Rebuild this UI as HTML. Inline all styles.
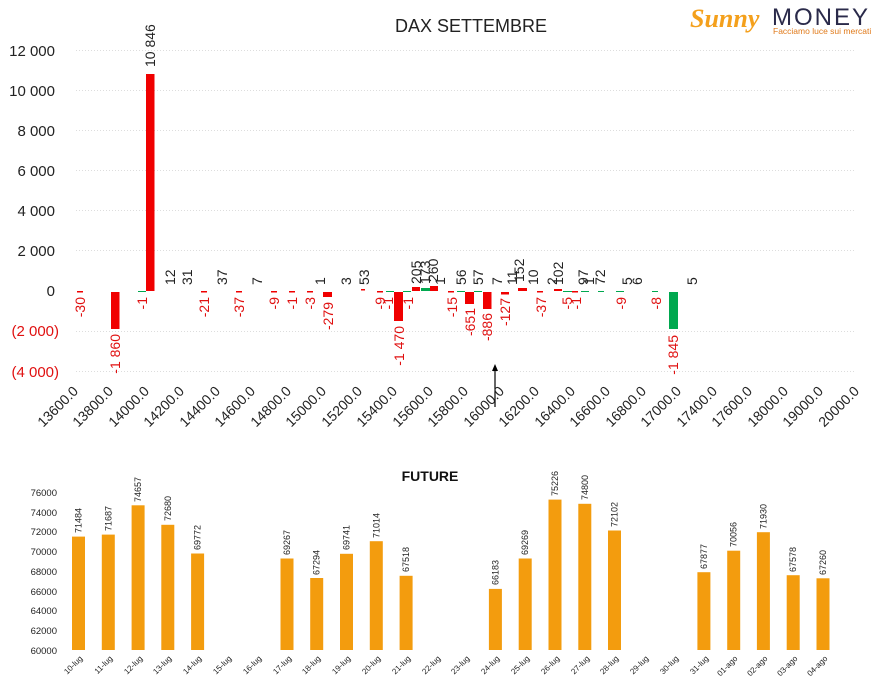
<!DOCTYPE html>
<html><head><meta charset="utf-8"><style>
html,body{margin:0;padding:0;background:#fff;}
svg{display:block;font-family:"Liberation Sans",sans-serif;}
</style></head><body>
<svg width="892" height="693" viewBox="0 0 892 693" xmlns="http://www.w3.org/2000/svg">
<rect width="892" height="693" fill="#fff"/>
<!-- logo -->
<text x="690" y="27" font-size="26" font-style="italic" font-weight="bold" fill="#f4a01c" font-family="Liberation Serif,serif">Sunny</text>
<text x="772" y="25" font-size="24" fill="#2a2a4a" letter-spacing="2">MONEY</text>
<text x="773" y="34" font-size="8.5" fill="#e07a1a">Facciamo luce sui mercati</text>
<!-- title -->
<text x="471" y="32" font-size="18" text-anchor="middle" fill="#222">DAX SETTEMBRE</text>
<!-- gridlines -->
<g stroke="#ddd" stroke-dasharray="1,2" stroke-width="1">
<line x1="76" y1="50.5" x2="855" y2="50.5"/><line x1="76" y1="90.5" x2="855" y2="90.5"/>
<line x1="76" y1="130.5" x2="855" y2="130.5"/><line x1="76" y1="170.5" x2="855" y2="170.5"/>
<line x1="76" y1="210.5" x2="855" y2="210.5"/><line x1="76" y1="250.5" x2="855" y2="250.5"/>
<line x1="76" y1="331.5" x2="855" y2="331.5"/><line x1="76" y1="371.5" x2="855" y2="371.5"/>
</g>
<g font-size="15" text-anchor="end" fill="#222">
<text x="55" y="56">12 000</text><text x="55" y="96">10 000</text><text x="55" y="136">8 000</text>
<text x="55" y="176">6 000</text><text x="55" y="216">4 000</text><text x="55" y="256">2 000</text>
<text x="55" y="296">0</text>
<text x="59" y="336" fill="#e01010">(2 000)</text><text x="59" y="377" fill="#e01010">(4 000)</text>
</g>
<!-- bars top -->
<g fill="#f00000">
<rect x="77" y="291" width="6" height="1.5"/>
<rect x="111" y="292" width="8.5" height="37"/>
<rect x="146" y="74" width="8.5" height="217"/>
<rect x="201" y="291" width="6" height="1.5"/>
<rect x="236" y="291" width="6" height="1.5"/>
<rect x="271" y="291" width="6" height="1.5"/>
<rect x="289" y="291" width="6" height="1.5"/>
<rect x="307" y="291" width="6" height="1.5"/>
<rect x="323" y="292" width="9" height="5"/>
<rect x="361" y="289" width="4" height="1.5"/>
<rect x="377" y="291" width="6" height="1.5"/>
<rect x="394" y="292" width="9" height="29"/>
<rect x="412" y="287" width="8" height="4"/>
<rect x="430" y="286" width="8" height="5"/>
<rect x="448" y="291" width="6" height="1.5"/>
<rect x="465" y="292" width="9" height="12"/>
<rect x="483" y="292" width="8.5" height="17"/>
<rect x="501" y="292" width="8" height="2.5"/>
<rect x="518" y="288" width="9" height="3"/>
<rect x="537" y="291" width="6" height="1.5"/>
<rect x="554" y="289" width="8" height="2"/>
<rect x="572" y="291" width="6" height="1.5"/>
</g>
<g fill="#00a84f">
<rect x="138" y="291" width="8" height="1"/>
<rect x="386" y="291" width="8" height="1"/>
<rect x="403" y="291" width="8" height="1"/>
<rect x="421" y="288" width="9" height="3"/>
<rect x="457" y="291" width="8" height="1"/>
<rect x="474" y="291" width="8" height="1"/>
<rect x="563" y="291" width="9" height="1"/>
<rect x="581" y="291" width="8" height="1"/>
<rect x="598" y="291" width="6" height="1"/>
<rect x="616" y="291" width="8" height="1"/>
<rect x="652" y="291" width="6" height="1"/>
<rect x="669" y="292" width="9" height="37"/>
</g>
<!-- positive labels -->
<g font-size="14" fill="#222">
<text transform="translate(155,67) rotate(-90)">10 846</text>
<text transform="translate(175,285) rotate(-90)">12</text>
<text transform="translate(192,285) rotate(-90)">31</text>
<text transform="translate(227,285) rotate(-90)">37</text>
<text transform="translate(262,285) rotate(-90)">7</text>
<text transform="translate(325,285) rotate(-90)">1</text>
<text transform="translate(351,285) rotate(-90)">3</text>
<text transform="translate(369,285) rotate(-90)">53</text>
<text transform="translate(421,284) rotate(-90)">205</text>
<text transform="translate(430,284) rotate(-90)">173</text>
<text transform="translate(438,282) rotate(-90)">260</text>
<text transform="translate(445,285) rotate(-90)">1</text>
<text transform="translate(466,285) rotate(-90)">56</text>
<text transform="translate(483,285) rotate(-90)">57</text>
<text transform="translate(502,285) rotate(-90)">7</text>
<text transform="translate(517,285) rotate(-90)">11</text>
<text transform="translate(524,282) rotate(-90)">152</text>
<text transform="translate(538,285) rotate(-90)">10</text>
<text transform="translate(557,285) rotate(-90)">2</text>
<text transform="translate(563,285) rotate(-90)">102</text>
<text transform="translate(588,285) rotate(-90)">97</text>
<text transform="translate(594,285) rotate(-90)">1</text>
<text transform="translate(605,285) rotate(-90)">72</text>
<text transform="translate(632,285) rotate(-90)">5</text>
<text transform="translate(642,285) rotate(-90)">6</text>
<text transform="translate(697,285) rotate(-90)">5</text>
</g>
<!-- negative labels -->
<g font-size="14" fill="#e01010" text-anchor="end">
<text transform="translate(85,297) rotate(-90)">-30</text>
<text transform="translate(120,334) rotate(-90)">-1 860</text>
<text transform="translate(147,297) rotate(-90)">-1</text>
<text transform="translate(209,297) rotate(-90)">-21</text>
<text transform="translate(244,297) rotate(-90)">-37</text>
<text transform="translate(279,297) rotate(-90)">-9</text>
<text transform="translate(297,297) rotate(-90)">-1</text>
<text transform="translate(315,297) rotate(-90)">-3</text>
<text transform="translate(333,302) rotate(-90)">-279</text>
<text transform="translate(385,297) rotate(-90)">-9</text>
<text transform="translate(393,297) rotate(-90)">-1</text>
<text transform="translate(404,326) rotate(-90)">-1 470</text>
<text transform="translate(413,297) rotate(-90)">-1</text>
<text transform="translate(457,297) rotate(-90)">-15</text>
<text transform="translate(475,308) rotate(-90)">-651</text>
<text transform="translate(492,313) rotate(-90)">-886</text>
<text transform="translate(510,298) rotate(-90)">-127</text>
<text transform="translate(546,297) rotate(-90)">-37</text>
<text transform="translate(572,297) rotate(-90)">-5</text>
<text transform="translate(581,297) rotate(-90)">-1</text>
<text transform="translate(626,297) rotate(-90)">-9</text>
<text transform="translate(661,297) rotate(-90)">-8</text>
<text transform="translate(678,335) rotate(-90)">-1 845</text>
</g>
<!-- arrow -->
<line x1="495" y1="407" x2="495" y2="370" stroke="#000" stroke-width="1.2"/>
<polygon points="495,364 492,371 498,371" fill="#000"/>
<!-- x labels -->
<g font-size="14" fill="#222" text-anchor="end">
<text transform="translate(79,392) rotate(-45)">13600.0</text>
<text transform="translate(114,392) rotate(-45)">13800.0</text>
<text transform="translate(150,392) rotate(-45)">14000.0</text>
<text transform="translate(185,392) rotate(-45)">14200.0</text>
<text transform="translate(221,392) rotate(-45)">14400.0</text>
<text transform="translate(256,392) rotate(-45)">14600.0</text>
<text transform="translate(292,392) rotate(-45)">14800.0</text>
<text transform="translate(327,392) rotate(-45)">15000.0</text>
<text transform="translate(363,392) rotate(-45)">15200.0</text>
<text transform="translate(398,392) rotate(-45)">15400.0</text>
<text transform="translate(434,392) rotate(-45)">15600.0</text>
<text transform="translate(469,392) rotate(-45)">15800.0</text>
<text transform="translate(505,392) rotate(-45)">16000.0</text>
<text transform="translate(540,392) rotate(-45)">16200.0</text>
<text transform="translate(576,392) rotate(-45)">16400.0</text>
<text transform="translate(611,392) rotate(-45)">16600.0</text>
<text transform="translate(647,392) rotate(-45)">16800.0</text>
<text transform="translate(682,392) rotate(-45)">17000.0</text>
<text transform="translate(718,392) rotate(-45)">17400.0</text>
<text transform="translate(753,392) rotate(-45)">17600.0</text>
<text transform="translate(789,392) rotate(-45)">18000.0</text>
<text transform="translate(824,392) rotate(-45)">19000.0</text>
<text transform="translate(860,392) rotate(-45)">20000.0</text>
</g>

<!-- FUTURE chart -->
<text x="430" y="481" font-size="14" font-weight="bold" text-anchor="middle" fill="#111">FUTURE</text>
<g font-size="9.5" text-anchor="end" fill="#222">
<text x="57" y="496">76000</text><text x="57" y="516">74000</text><text x="57" y="535">72000</text>
<text x="57" y="555">70000</text><text x="57" y="575">68000</text><text x="57" y="595">66000</text>
<text x="57" y="614">64000</text><text x="57" y="634">62000</text><text x="57" y="654">60000</text>
</g>
<g fill="#f39c0e">
<rect x="72" y="536.6" width="13" height="113.4"/>
<rect x="101.8" y="534.6" width="13" height="115.4"/>
<rect x="131.6" y="505.3" width="13" height="144.7"/>
<rect x="161.3" y="524.8" width="13" height="125.2"/>
<rect x="191.1" y="553.5" width="13" height="96.5"/>
<rect x="280.5" y="558.5" width="13" height="91.5"/>
<rect x="310.2" y="578" width="13" height="72"/>
<rect x="340" y="553.8" width="13" height="96.2"/>
<rect x="369.8" y="541.2" width="13" height="108.8"/>
<rect x="399.6" y="575.8" width="13" height="74.2"/>
<rect x="488.9" y="588.9" width="13" height="61.1"/>
<rect x="518.7" y="558.5" width="13" height="91.5"/>
<rect x="548.5" y="499.6" width="13" height="150.4"/>
<rect x="578.3" y="503.8" width="13" height="146.2"/>
<rect x="608" y="530.5" width="13" height="119.5"/>
<rect x="697.4" y="572.2" width="13" height="77.8"/>
<rect x="727.2" y="550.7" width="13" height="99.3"/>
<rect x="756.9" y="532.2" width="13" height="117.8"/>
<rect x="786.7" y="575.2" width="13" height="74.8"/>
<rect x="816.5" y="578.3" width="13" height="71.7"/>
</g>
<g font-size="9" fill="#222">
<text transform="translate(81.5,533) rotate(-90)">71484</text>
<text transform="translate(111.3,531) rotate(-90)">71687</text>
<text transform="translate(141.1,502) rotate(-90)">74657</text>
<text transform="translate(170.8,521) rotate(-90)">72680</text>
<text transform="translate(200.6,550) rotate(-90)">69772</text>
<text transform="translate(290,555) rotate(-90)">69267</text>
<text transform="translate(319.7,575) rotate(-90)">67294</text>
<text transform="translate(349.5,550) rotate(-90)">69741</text>
<text transform="translate(379.3,538) rotate(-90)">71014</text>
<text transform="translate(409.1,572) rotate(-90)">67518</text>
<text transform="translate(498.4,585) rotate(-90)">66183</text>
<text transform="translate(528.2,555) rotate(-90)">69269</text>
<text transform="translate(558,496) rotate(-90)">75226</text>
<text transform="translate(587.8,500) rotate(-90)">74800</text>
<text transform="translate(617.5,527) rotate(-90)">72102</text>
<text transform="translate(706.9,569) rotate(-90)">67877</text>
<text transform="translate(736.7,547) rotate(-90)">70056</text>
<text transform="translate(766.4,529) rotate(-90)">71930</text>
<text transform="translate(796.2,572) rotate(-90)">67578</text>
<text transform="translate(826,575) rotate(-90)">67260</text>
</g>
<g font-size="8" fill="#222" text-anchor="end">
<text transform="translate(83,659) rotate(-45)">10-lug</text>
<text transform="translate(113,659) rotate(-45)">11-lug</text>
<text transform="translate(143,659) rotate(-45)">12-lug</text>
<text transform="translate(172,659) rotate(-45)">13-lug</text>
<text transform="translate(202,659) rotate(-45)">14-lug</text>
<text transform="translate(232,659) rotate(-45)">15-lug</text>
<text transform="translate(262,659) rotate(-45)">16-lug</text>
<text transform="translate(292,659) rotate(-45)">17-lug</text>
<text transform="translate(321,659) rotate(-45)">18-lug</text>
<text transform="translate(351,659) rotate(-45)">19-lug</text>
<text transform="translate(381,659) rotate(-45)">20-lug</text>
<text transform="translate(411,659) rotate(-45)">21-lug</text>
<text transform="translate(441,659) rotate(-45)">22-lug</text>
<text transform="translate(470,659) rotate(-45)">23-lug</text>
<text transform="translate(500,659) rotate(-45)">24-lug</text>
<text transform="translate(530,659) rotate(-45)">25-lug</text>
<text transform="translate(560,659) rotate(-45)">26-lug</text>
<text transform="translate(590,659) rotate(-45)">27-lug</text>
<text transform="translate(619,659) rotate(-45)">28-lug</text>
<text transform="translate(649,659) rotate(-45)">29-lug</text>
<text transform="translate(679,659) rotate(-45)">30-lug</text>
<text transform="translate(709,659) rotate(-45)">31-lug</text>
<text transform="translate(738,659) rotate(-45)">01-ago</text>
<text transform="translate(768,659) rotate(-45)">02-ago</text>
<text transform="translate(798,659) rotate(-45)">03-ago</text>
<text transform="translate(828,659) rotate(-45)">04-ago</text>
</g>
</svg>
</body></html>
